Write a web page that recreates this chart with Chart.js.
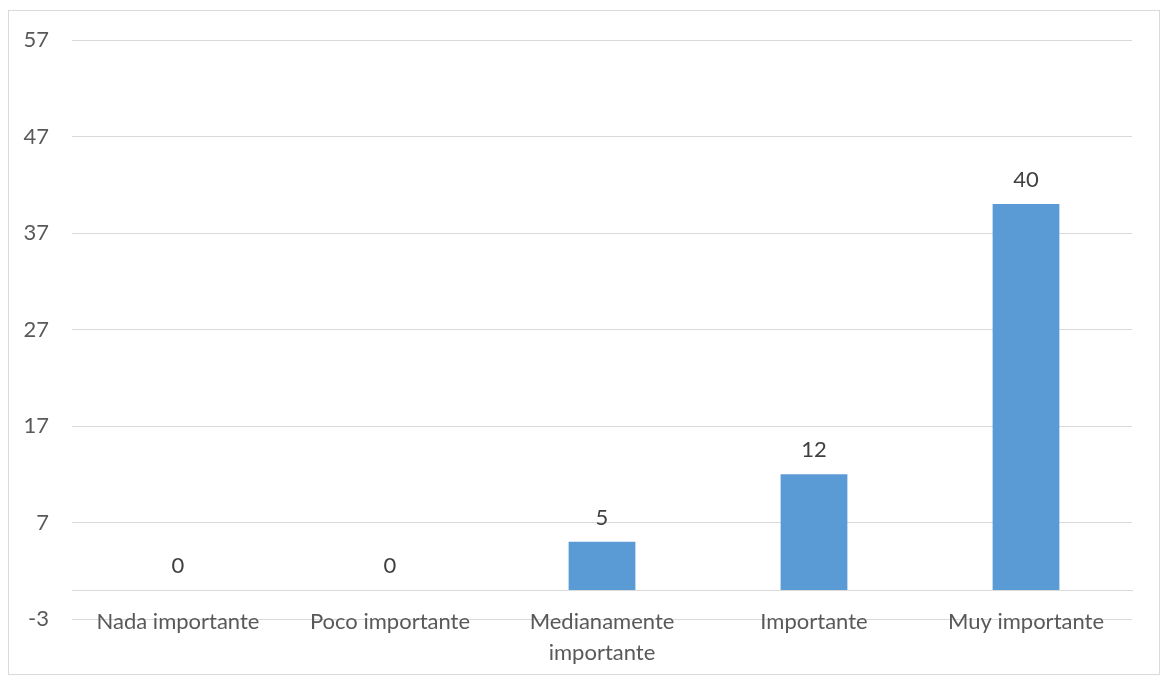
<!DOCTYPE html>
<html>
<head>
<meta charset="utf-8">
<script src="https://cdn.jsdelivr.net/npm/chart.js@4"></script>
<style>
  body { margin: 0; background: #fff; }
  #wrap {
    position: absolute;
    left: 8px;
    top: 10px;
    width: 1150px;
    height: 663px;
    border: 1px solid #d9d9d9;
  }
</style>
</head>
<body>
<div id="wrap"><canvas id="chart"></canvas></div>
<script>
var categories = ['Nada importante', 'Poco importante', ['Medianamente', 'importante'], 'Importante', 'Muy importante'];
var values = [0, 0, 5, 12, 40];
var yTicks = [-3, 7, 17, 27, 37, 47, 57];

var FONT = 'Lato, "Noto Sans", sans-serif';

// value labels above each bar
var barLabels = {
    id: 'barLabels',
    afterDatasetsDraw: function(chart) {
        var ctx = chart.ctx;
        var meta = chart.getDatasetMeta(0);
        ctx.save();
        ctx.font = '22px ' + FONT;
        ctx.fillStyle = '#404040';
        ctx.textAlign = 'center';
        ctx.textBaseline = 'alphabetic';
        meta.data.forEach(function(bar, i) {
            ctx.fillText(String(values[i]), bar.x, bar.y - 17);
        });
        ctx.restore();
    }
};

new Chart(document.getElementById('chart'), {
    type: 'bar',
    data: {
        labels: categories,
        datasets: [{
            data: values,
            backgroundColor: '#5b9bd5',
            barPercentage: 0.315,
            categoryPercentage: 1
        }]
    },
    options: {
        responsive: true,
        maintainAspectRatio: false,
        animation: false,
        // the x axis sits on the zero line, so it takes no room of its own
        layout: { padding: { top: 29, right: 27, left: 0, bottom: 55 } },
        plugins: {
            legend: { display: false },
            tooltip: { enabled: false }
        },
        scales: {
            x: {
                position: { y: 0 },
                grid: { display: false, drawTicks: false },
                border: { display: true, color: '#d9d9d9', width: 1 },
                ticks: {
                    color: '#595959',
                    font: { family: FONT, size: 22, lineHeight: 1.41 },
                    padding: 16,
                    maxRotation: 0,
                    autoSkip: false
                }
            },
            y: {
                min: -3,
                max: 57,
                grid: { color: '#d9d9d9', lineWidth: 1, drawTicks: false },
                border: { display: false },
                ticks: {
                    color: '#595959',
                    font: { family: FONT, size: 22 },
                    padding: 23
                },
                afterBuildTicks: function(scale) {
                    scale.ticks = yTicks.map(function(v) { return { value: v }; });
                },
                afterFit: function(scale) {
                    scale.width = 63;
                    scale.paddingTop = 0;
                    scale.paddingBottom = 0;
                }
            }
        }
    },
    plugins: [barLabels]
});
</script>
</body>
</html>
